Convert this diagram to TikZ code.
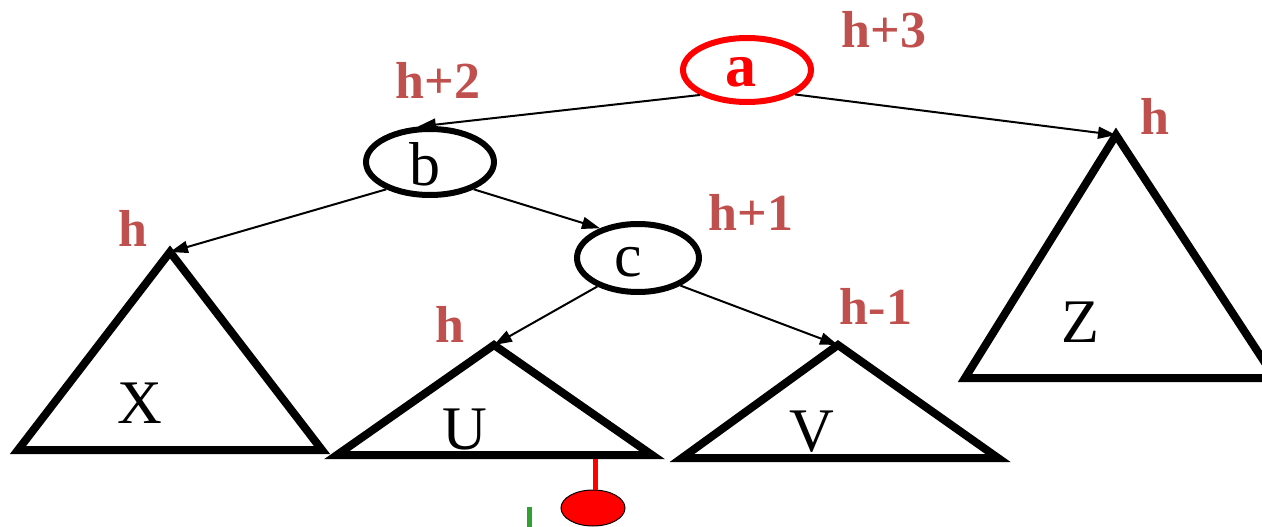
\documentclass[tikz,border=0pt]{standalone}
\usepackage{fontspec}
\setmainfont{Liberation Serif}
\usetikzlibrary{shapes.geometric,arrows.meta}
\definecolor{lblred}{RGB}{192,80,77}
\definecolor{grn}{RGB}{50,160,50}
\tikzset{
  tnode/.style={ellipse,draw=black,line width=6pt,inner sep=0pt,minimum width=126pt,minimum height=66pt},
  ltr/.style={font=\fontsize{62}{62}\selectfont},
  lbl/.style={text=lblred,font=\fontsize{52}{52}\selectfont\bfseries},
  tri/.style={draw=black,line width=8pt,line join=miter},
  edge/.style={line width=2pt,-{Triangle[length=18pt,width=12pt]}}
}
\begin{document}
\begin{tikzpicture}[x=1pt,y=-1pt]
\useasboundingbox (0,0) rectangle (1262,527);
% nodes
\node[tnode,draw=red,minimum width=128pt,minimum height=64pt] (a) at (747,70) {};
\node[text=red,font=\fontsize{62}{62}\selectfont\bfseries] (al) at (741,72) {a};
\node[tnode,minimum width=128pt,minimum height=66pt] (b) at (430,162) {};
\node[ltr] (bl) at (425,164) {b};
\node[tnode,minimum width=122pt,minimum height=68pt] (c) at (638,258) {};
\node[ltr] (cl) at (628,262) {c};
% triangle apexes
\coordinate (xa) at (170,252);
\coordinate (ua) at (494,345);
\coordinate (va) at (838,345);
\coordinate (za) at (1116,135);
\draw[tri] (xa) -- (18,450) -- (322,450) -- cycle;
\draw[tri] (ua) -- (337,455) -- (652,455) -- cycle;
\draw[tri] (va) -- (682,458) -- (998,458) -- cycle;
\draw[tri] (za) -- (965,378) -- (1275,378) -- cycle;
\node[ltr] (xl) at (140,403) {X};
\node[ltr] (ul) at (465,430) {U};
\node[ltr] (vl) at (812,432) {V};
\node[ltr] (zl) at (1080,322) {Z};
% edges
\draw[edge] (a.208) -- (b.109);
\draw[edge] (a.333) -- (za);
\draw[edge] (b.212) -- (xa);
\draw[edge] (b.328) -- (c.142);
\draw[edge] (c.215) -- (ua);
\draw[edge] (c.327) -- (va);
% labels
\node[lbl] (l1) at (884,30) {h+3};
\node[lbl] (l2) at (438,80) {h+2};
\node[lbl] (l3) at (1155,116) {h};
\node[lbl] (l4) at (133,228) {h};
\node[lbl] (l5) at (751,212) {h+1};
\node[lbl] (l6) at (450,324) {h};
\node[lbl] (l7) at (876,306) {h-1};
% bottom
\node[ellipse,draw=black,line width=1pt,fill=red,inner sep=0pt,minimum width=64pt,minimum height=36pt] (r) at (593,508) {};
\coordinate (ub) at (595,459);
\draw[red,line width=5pt] (ub) -- (r.north -| ub);
\coordinate (g1) at (529,507);
\coordinate (g2) at (529,530);
\draw[grn,line width=5pt] (g1) -- (g2);
\end{tikzpicture}
\end{document}
